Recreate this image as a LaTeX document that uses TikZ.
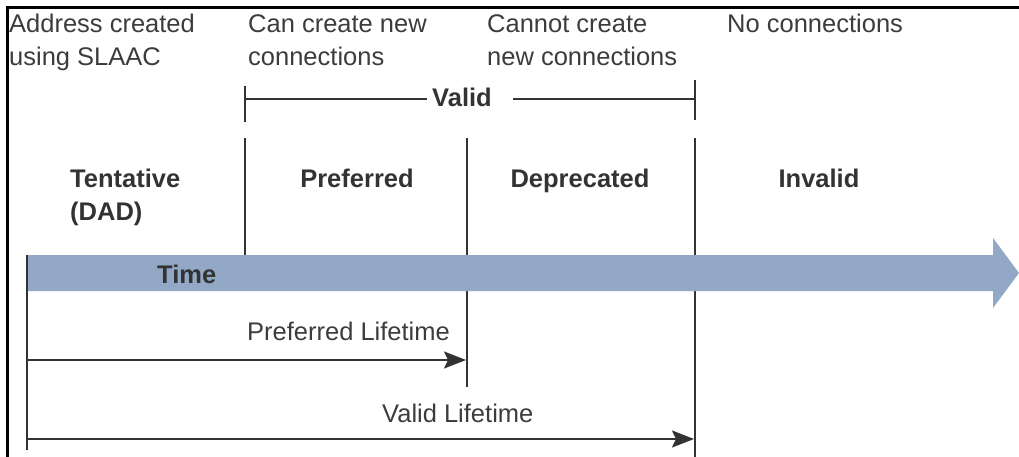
\documentclass[tikz,border=0pt]{standalone}
\usepackage{fontspec}
\setmainfont{Liberation Sans}
\usetikzlibrary{arrows.meta}
\definecolor{ink}{HTML}{333333}
\definecolor{txt}{HTML}{3C3C3C}
\definecolor{timebar}{HTML}{92A8C6}
\begin{document}
\begin{tikzpicture}[x=1pt,y=-1pt,
  note/.style={inner sep=0pt, anchor=base west, align=left, text=txt,
    font=\fontsize{25.5}{33}\selectfont},
  state/.style={inner sep=0pt, anchor=base, align=left, text=ink,
    font=\fontsize{25.5}{33}\selectfont\bfseries},
  rule/.style={draw=ink, line width=2pt},
  span/.style={draw=ink, line width=2pt,
    -{Stealth[length=22pt,width=17pt,inset=4pt]}},
]
\useasboundingbox (0,0) rectangle (1019,457);

% page frame (top and left edges)
\coordinate (fTR) at (1019,7.5);
\coordinate (fTL) at (7,7.5);
\coordinate (fBL) at (7,457);
\draw[line width=3pt, black, line join=miter] (fTR) -- (fTL) -- (fBL);

% descriptions of each phase (base = baseline of the last line)
\node[note] (slaac)  at (9,66)   {Address created\\using SLAAC};
\node[note] (cannew) at (248,66) {Can create new\\connections};
\node[note] (nonew)  at (487,66) {Cannot create\\new connections};
\node[note] (nocon)  at (727,33) {No connections};

% "Valid" bracket
\node[state, anchor=base] (valid) at (462,106.5) {Valid};
\coordinate (vL1) at (245,86);  \coordinate (vL2) at (245,122);
\coordinate (vR1) at (695,80);  \coordinate (vR2) at (695,120);
\coordinate (vLm) at (245,99);  \coordinate (vRm) at (695,99);
\coordinate (vA)  at (427,99);  \coordinate (vB)  at (513,99);
\draw[rule] (vL1) -- (vL2);
\draw[rule] (vR1) -- (vR2);
\draw[rule] (vLm) -- (vA);
\draw[rule] (vB) -- (vRm);

% phase boundaries
\coordinate (b0t) at (27,255);  \coordinate (b0b) at (27,450);
\coordinate (b1t) at (245,138); \coordinate (b1b) at (245,255);
\coordinate (b2t) at (467,138); \coordinate (b2b) at (467,387);
\coordinate (b3t) at (695,138); \coordinate (b3b) at (695,457);
\draw[rule] (b0t) -- (b0b);
\draw[rule] (b1t) -- (b1b);
\draw[rule] (b2t) -- (b2b);
\draw[rule] (b3t) -- (b3b);

% phase names
\node[state, anchor=base west] (tent) at (70,220) {Tentative\\(DAD)};
\node[state] (pref) at (357,187) {Preferred};
\node[state] (depr) at (580,187) {Deprecated};
\node[state] (inv)  at (819,187) {Invalid};

% time axis
\fill[timebar] (28,255) -- (993,255) -- (993,238) -- (1019,273)
  -- (993,308) -- (993,291) -- (28,291) -- cycle;
\node[state, anchor=base west] (time) at (157,283) {Time};

% lifetimes
\coordinate (p0) at (27,360);  \coordinate (p1) at (466,360);
\coordinate (l0) at (27,439);  \coordinate (l1) at (694,439);
\draw[span] (p0) -- (p1);
\draw[span] (l0) -- (l1);
\node[note] (preflife) at (247,340) {Preferred Lifetime};
\node[note] (validlife) at (382,422) {Valid Lifetime};
\end{tikzpicture}
\end{document}
